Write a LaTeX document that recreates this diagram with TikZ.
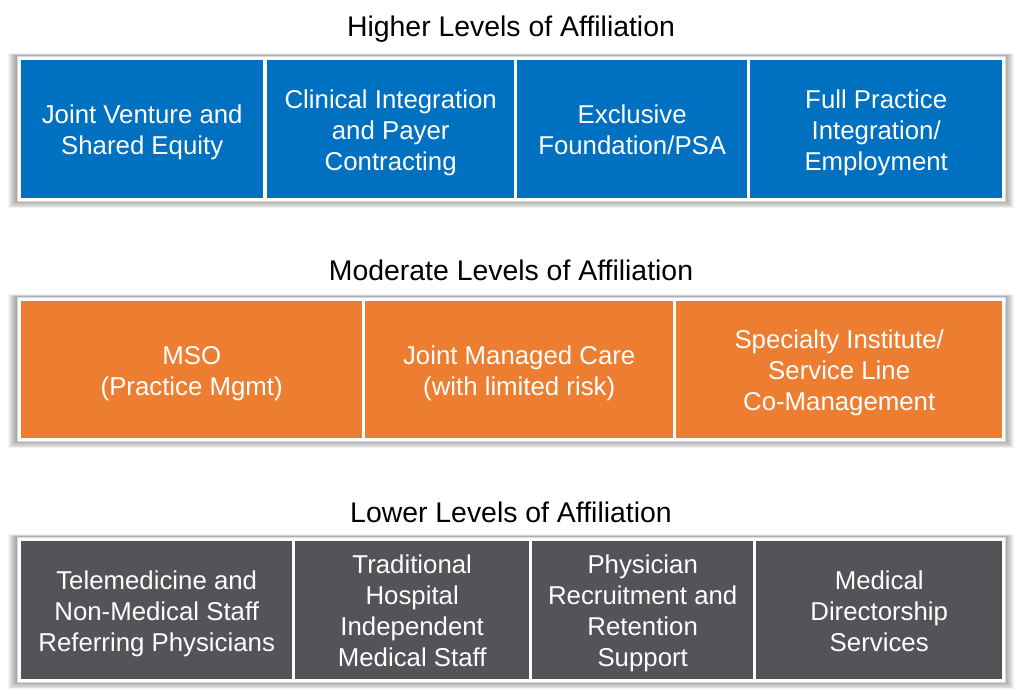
\documentclass[tikz,border=0pt]{standalone}
\usepackage{fontspec}
\setmainfont{Liberation Sans}
\definecolor{cblue}{HTML}{0070C0}
\definecolor{corange}{HTML}{ED7D31}
\definecolor{cgray}{HTML}{545358}
\newcommand{\tstr}{\rule{0pt}{27pt}}
\newcommand{\bstr}{\rule[-6.8pt]{0pt}{0pt}}
\tikzset{
  cell/.style={anchor=north west, inner sep=0pt, text=white, align=center,
    font=\fontsize{25.8}{31}\selectfont, minimum height=138pt},
  bluecell/.style={cell, fill=cblue},
  orangecell/.style={cell, fill=corange, minimum height=137pt},
  graycell/.style={cell, fill=cgray},
  title/.style={font=\fontsize{28.4}{33}\selectfont, text=black, inner sep=0pt, anchor=base},
}
\newcommand{\rowframe}[2]{%
  \foreach \i in {1,...,9} {
    \fill[black, opacity=0.045] (17-\i,#1-\i*0.3) rectangle (1005+\i,#2+\i*0.8);
  }
  \fill[white] (17,#1) rectangle (1005,#2);
  \draw[black!15, line width=0.6pt] (17,#1) rectangle (1005,#2);
}
\begin{document}
\begin{tikzpicture}[x=1pt,y=-1pt]
\useasboundingbox (0,0) rectangle (1024,693);
\fill[white] (0,0) rectangle (1024,693);

% Titles
\node[title] (t1) at (511,37) {Higher Levels of Affiliation};
\node[title] (t2) at (511,280) {Moderate Levels of Affiliation};
\node[title] (t3) at (511,522) {Lower Levels of Affiliation};

% Top row
\rowframe{56}{201}
\node[bluecell, minimum width=242pt] (h1) at (21,60) {\tstr Joint Venture and\\Shared Equity\bstr};
\node[bluecell, minimum width=247pt] (h2) at (267,60) {\tstr Clinical Integration\\and Payer\\Contracting\bstr};
\node[bluecell, minimum width=230pt] (h3) at (517,60) {\tstr Exclusive\\Foundation/PSA\bstr};
\node[bluecell, minimum width=252pt] (h4) at (750,60) {\tstr Full Practice\\Integration/\\Employment\bstr};

% Middle row
\rowframe{297}{441}
\node[orangecell, minimum width=341pt] (m1) at (21,301) {\tstr MSO\\(Practice Mgmt)\bstr};
\node[orangecell, minimum width=308pt] (m2) at (365,301) {\tstr Joint Managed Care\\(with limited risk)\bstr};
\node[orangecell, minimum width=326pt] (m3) at (676,301) {\tstr Specialty Institute/\\Service Line\\Co-Management\bstr};

% Bottom row
\rowframe{537}{682}
\node[graycell, minimum width=271pt] (l1) at (21,541) {\tstr Telemedicine and\\Non-Medical Staff\\Referring Physicians\bstr};
\node[graycell, minimum width=234pt] (l2) at (295,541) {\tstr Traditional\\Hospital\\Independent\\Medical Staff\bstr};
\node[graycell, minimum width=221pt] (l3) at (532,541) {\tstr Physician\\Recruitment and\\Retention\\Support\bstr};
\node[graycell, minimum width=246pt] (l4) at (756,541) {\tstr Medical\\Directorship\\Services\bstr};
\end{tikzpicture}
\end{document}
